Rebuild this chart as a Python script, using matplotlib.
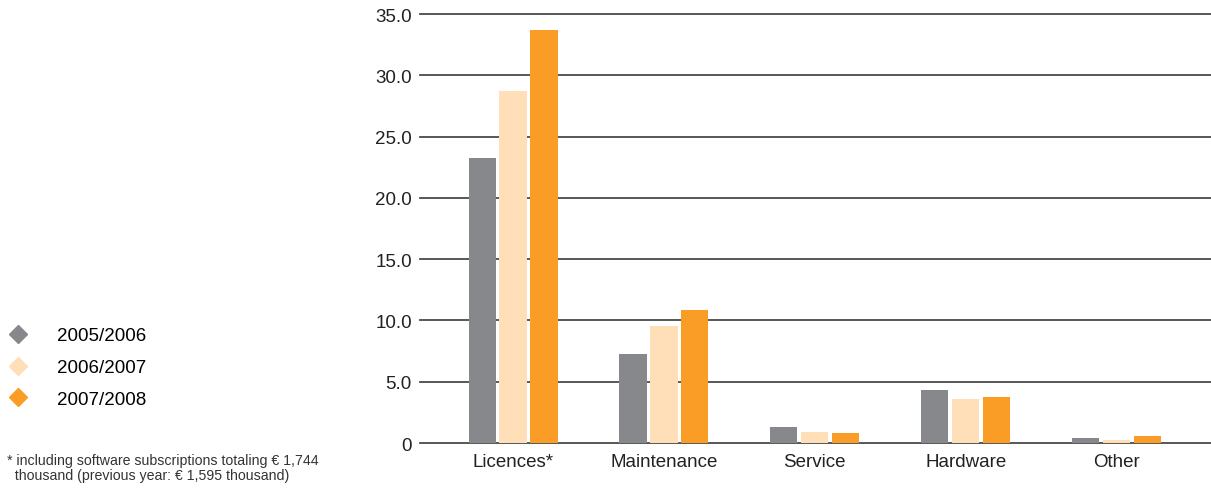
import numpy as np
import matplotlib.pyplot as plt
from matplotlib.lines import Line2D

plt.rcParams['font.family'] = ['Liberation Sans', 'DejaVu Sans']

# data
categories = ['Licences*', 'Maintenance', 'Service', 'Hardware', 'Other']
years = ['2005/2006', '2006/2007', '2007/2008']
v_2005 = [23.25, 7.26, 1.30, 4.32, 0.40]
v_2006 = [28.70, 9.55, 0.90, 3.60, 0.25]
v_2007 = [33.70, 10.85, 0.82, 3.75, 0.60]
colors = ['#87888c', '#fedfb8', '#f99d27']
yticks = [0, 5, 10, 15, 20, 25, 30, 35]
ytick_labels = ['0', '5.0', '10.0', '15.0', '20.0', '25.0', '30.0', '35.0']

fig = plt.figure(figsize=(12.11, 4.89), dpi=100)
ax = fig.add_axes([0.347, 0.092, 0.653, 0.877])

x = np.arange(len(categories))
width = 0.18
step = 0.205
for i, vals in enumerate([v_2005, v_2006, v_2007]):
    ax.bar(x + (i - 1) * step, vals, width, color=colors[i], zorder=3)

# horizontal grid lines
for t in yticks:
    ax.axhline(t, color='#4a4a4a', linewidth=1.3, zorder=2, clip_on=False)

ax.set_xlim(-0.615, 4.625)
ax.set_ylim(0, 35)
ax.set_yticks(yticks)
ax.set_yticklabels(ytick_labels, fontsize=13.5, color='#222222')
ax.set_xticks(x)
ax.set_xticklabels(categories, fontsize=13.5, color='#222222')
ax.tick_params(axis='both', length=0)
ax.tick_params(axis='y', pad=6)
ax.tick_params(axis='x', pad=7)
for s in ax.spines.values():
    s.set_visible(False)

# legend on the left
handles = [Line2D([], [], marker='D', linestyle='none', markersize=9,
                  color=c) for c in colors]
fig.legend(handles, years, loc='upper left', bbox_to_anchor=(0.001, 0.344),
           frameon=False, fontsize=13.5, labelspacing=0.78,
           handletextpad=1.55, handlelength=1.0, borderaxespad=0)

fig.text(0.006, 0.042, '* including software subscriptions totaling € 1,744\n'
         '  thousand (previous year: € 1,595 thousand)',
         fontsize=10.2, color='#333333', va='center', linespacing=1.05)

fig.savefig('out.png', dpi=100)
